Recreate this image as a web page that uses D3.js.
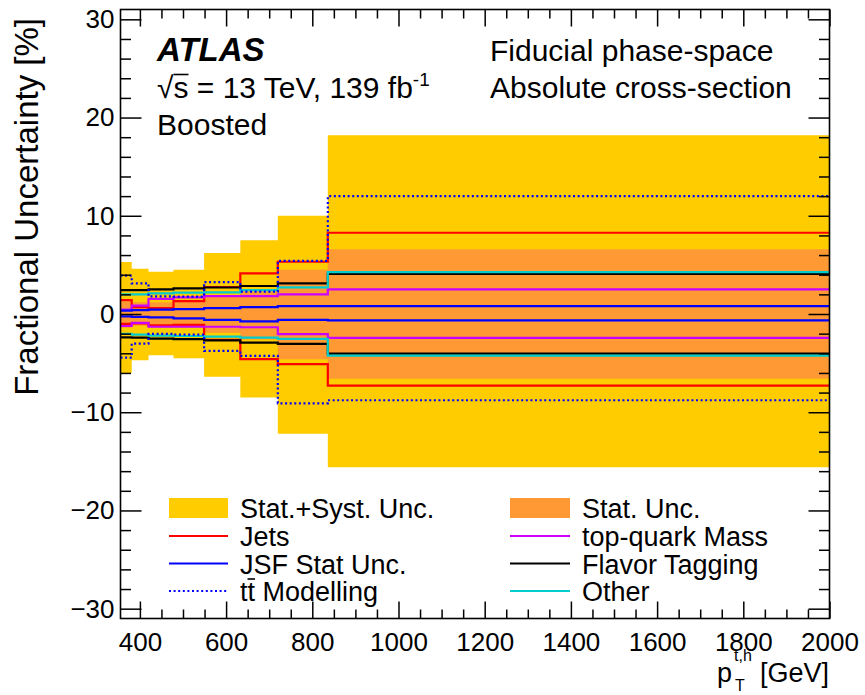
<!DOCTYPE html>
<html>
<head>
<meta charset="utf-8">
<script src="https://cdn.jsdelivr.net/npm/d3@7"></script>
<style>
  html, body { margin: 0; padding: 0; background: #fff; }
  svg { display: block; font-family: "Liberation Sans", Arial, Helvetica, sans-serif; }
</style>
</head>
<body>
<svg id="chart" width="865" height="695"></svg>
<script>
// Bin edges of the hadronic top pT (GeV)
const binEdges = [355, 381, 420, 478, 549, 633, 720, 836, 2000];

// Total (stat + syst) and statistical uncertainty bands, in %
const totalUp   = [5.3, 4.6, 4.3, 4.5, 6.2, 7.5, 10.0, 18.2];
const totalDown = [-6.0, -4.7, -4.2, -4.5, -6.4, -8.5, -12.2, -15.6];
const statUp    = [1.3, 1.2, 1.2, 1.3, 1.9, 2.4, 4.5, 6.6];
const statDown  = [-1.4, -1.2, -1.2, -1.3, -1.9, -2.6, -4.6, -6.6];

// Individual systematic components, up and down variations, in %
const jetsUp     = [1.42, 0.7, 0.6, 1.32, 2.75, 4.14, 5.32, 8.27];
const jetsDown   = [-1.0, -0.95, -1.15, -1.1, -2.64, -4.6, -5.1, -7.29];
const massUp     = [0.45, 0.85, 1.55, 1.7, 1.83, 1.83, 2.0, 2.51];
const massDown   = [-1.22, -0.9, -1.3, -1.3, -1.3, -1.35, -2.05, -2.44];
const jsfUp      = [0.35, 0.4, 0.45, 0.5, 0.6, 0.7, 0.8, 0.81];
const jsfDown    = [-0.25, -0.3, -0.35, -0.45, -0.6, -0.75, -0.6, -0.64];
const flavUp     = [2.44, 2.44, 2.51, 2.61, 2.7, 2.85, 3.12, 4.07];
const flavDown   = [-2.37, -2.41, -2.5, -2.55, -2.68, -2.92, -3.05, -4.04];
const otherUp    = [2.0, 2.0, 2.1, 2.17, 2.2, 2.44, 2.71, 4.27];
const otherDown  = [-2.03, -2.1, -2.2, -2.24, -2.31, -2.41, -2.54, -4.24];
const modelUp    = [3.9, 3.12, 1.8, 1.76, 3.25, 2.27, 5.4, 12.0];
const modelDown  = [-4.44, -3.02, -2.03, -2.1, -3.76, -4.27, -9.09, -8.78];

// Axis ticks
const xMajorTicks = [400, 600, 800, 1000, 1200, 1400, 1600, 1800, 2000];
const yMajorTicks = [-30, -20, -10, 0, 10, 20, 30];

const svg = d3.select("#chart");
const plot = { left: 120.5, right: 829.5, top: 9.5, bottom: 618.5 };

const x = d3.scaleLinear().domain([355, 2000]).range([plot.left, plot.right]);
const y = d3.scaleLinear().domain([-31, 31]).range([plot.bottom, plot.top]);

const colors = {
  total: "#ffcc00",
  stat: "#ff9933",
  jets: "#ff0000",
  mass: "#cc00ff",
  jsf: "#0000ff",
  flav: "#000000",
  other: "#00cccc",
  model: "#0000ff"
};

svg.append("defs").append("clipPath").attr("id", "plotclip")
  .append("rect")
  .attr("x", plot.left).attr("y", plot.top)
  .attr("width", plot.right - plot.left).attr("height", plot.bottom - plot.top);

const g = svg.append("g").attr("clip-path", "url(#plotclip)");

// Step data for a per-bin series: each bin contributes both of its edges
function stepPoints(values) {
  const pts = [];
  values.forEach((v, i) => {
    pts.push([binEdges[i], v]);
    pts.push([binEdges[i + 1], v]);
  });
  return pts;
}

function bandData(lo, hi) {
  const pts = [];
  lo.forEach((v, i) => {
    pts.push({ x: binEdges[i], lo: v, hi: hi[i] });
    pts.push({ x: binEdges[i + 1], lo: v, hi: hi[i] });
  });
  return pts;
}

const area = d3.area()
  .x(d => x(d.x))
  .y0(d => y(d.lo))
  .y1(d => y(d.hi));

g.append("path")
  .datum(bandData(totalDown, totalUp))
  .attr("d", area)
  .attr("fill", colors.total);

g.append("path")
  .datum(bandData(statDown, statUp))
  .attr("d", area)
  .attr("fill", colors.stat);

const line = d3.line().x(d => x(d[0])).y(d => y(d[1]));

const components = [
  { up: jetsUp, down: jetsDown, color: colors.jets, dash: null },
  { up: massUp, down: massDown, color: colors.mass, dash: null },
  { up: jsfUp, down: jsfDown, color: colors.jsf, dash: null },
  { up: flavUp, down: flavDown, color: colors.flav, dash: null },
  { up: otherUp, down: otherDown, color: colors.other, dash: null },
  { up: modelUp, down: modelDown, color: colors.model, dash: "2,2.6" }
];

components.forEach(c => {
  [c.up, c.down].forEach(vals => {
    g.append("path")
      .datum(stepPoints(vals))
      .attr("d", line)
      .attr("fill", "none")
      .attr("stroke", c.color)
      .attr("stroke-width", 2.2)
      .attr("stroke-dasharray", c.dash);
  });
});

// Axes: ticks point inward, mirrored on top and right
const xMinorTicks = d3.range(400, 2001, 50).filter(v => v % 200 !== 0);
const yMinorTicks = d3.range(-30, 31, 2).filter(v => v % 10 !== 0);

function styleAxis(sel) {
  sel.select(".domain").remove();
  sel.selectAll("line").attr("stroke", "#000").attr("stroke-width", 1.5);
  sel.selectAll("text").attr("fill", "#000").style("font-family", "Liberation Sans, Arial, sans-serif");
}

// bottom
svg.append("g").attr("transform", `translate(0,${plot.bottom})`)
  .call(d3.axisBottom(x).tickValues(xMajorTicks).tickSize(-17).tickPadding(14).tickFormat(d3.format("")))
  .call(styleAxis)
  .selectAll("text").style("font-size", "26px").attr("dy", "0.71em");
svg.append("g").attr("transform", `translate(0,${plot.bottom})`)
  .call(d3.axisBottom(x).tickValues(xMinorTicks).tickSize(-9).tickFormat(""))
  .call(styleAxis);
// top
svg.append("g").attr("transform", `translate(0,${plot.top})`)
  .call(d3.axisTop(x).tickValues(xMajorTicks).tickSize(-17).tickFormat(""))
  .call(styleAxis);
svg.append("g").attr("transform", `translate(0,${plot.top})`)
  .call(d3.axisTop(x).tickValues(xMinorTicks).tickSize(-9).tickFormat(""))
  .call(styleAxis);
// left
svg.append("g").attr("transform", `translate(${plot.left},0)`)
  .call(d3.axisLeft(y).tickValues(yMajorTicks).tickSize(-21).tickPadding(6).tickFormat(d3.format("")))
  .call(styleAxis)
  .selectAll("text").style("font-size", "26px");
svg.append("g").attr("transform", `translate(${plot.left},0)`)
  .call(d3.axisLeft(y).tickValues(yMinorTicks).tickSize(-10.5).tickFormat(""))
  .call(styleAxis);
// right
svg.append("g").attr("transform", `translate(${plot.right},0)`)
  .call(d3.axisRight(y).tickValues(yMajorTicks).tickSize(-21).tickFormat(""))
  .call(styleAxis);
svg.append("g").attr("transform", `translate(${plot.right},0)`)
  .call(d3.axisRight(y).tickValues(yMinorTicks).tickSize(-10.5).tickFormat(""))
  .call(styleAxis);

// frame
svg.append("rect")
  .attr("x", plot.left).attr("y", plot.top)
  .attr("width", plot.right - plot.left).attr("height", plot.bottom - plot.top)
  .attr("fill", "none").attr("stroke", "#000").attr("stroke-width", 1.6);

// Axis titles
svg.append("text")
  .attr("transform", "translate(38,18) rotate(-90)")
  .attr("text-anchor", "end")
  .style("font-size", "33px")
  .text("Fractional Uncertainty [%]");

const xt = svg.append("g");
xt.append("text").attr("x", 829).attr("y", 682).attr("text-anchor", "end")
  .style("font-size", "27px").text("[GeV]");
xt.append("text").attr("x", 717).attr("y", 682).style("font-size", "27px").text("p");
xt.append("text").attr("x", 734).attr("y", 661).style("font-size", "16px").text("t,h");
xt.append("text").attr("x", 735).attr("y", 691).style("font-size", "16px").text("T");

// Draws a bar over characters [i0, i1] of a text element, at the given height above the baseline
function overbar(textSel, i0, i1, baseY, rise) {
  const node = textSel.node();
  const xa = node.getStartPositionOfChar(i0).x;
  const xb = node.getEndPositionOfChar(i1).x;
  svg.append("line")
    .attr("x1", xa).attr("x2", xb)
    .attr("y1", baseY - rise).attr("y2", baseY - rise)
    .attr("stroke", "#000").attr("stroke-width", 1.6);
}

// Labels in the top-left and top-right corners
svg.append("text").attr("x", 157).attr("y", 61)
  .style("font-size", "33px").style("font-weight", "bold").style("font-style", "italic")
  .text("ATLAS");
const lumi = svg.append("text").attr("x", 157).attr("y", 98).style("font-size", "30px");
lumi.append("tspan").text("\u221As = 13 TeV, 139 fb");
lumi.append("tspan").attr("dy", -12).style("font-size", "19px").text("-1");
overbar(lumi, 1, 1, 98, 23.5);
svg.append("text").attr("x", 157).attr("y", 135).style("font-size", "30px").text("Boosted");
svg.append("text").attr("x", 490).attr("y", 61).style("font-size", "30px").text("Fiducial phase-space");
svg.append("text").attr("x", 490).attr("y", 98).style("font-size", "30px").text("Absolute cross-section");

// Legend
const legendRows = [508, 536, 563.5, 591];
const legendItems = [
  { col: 0, row: 0, type: "band", color: colors.total, label: "Stat.+Syst. Unc." },
  { col: 1, row: 0, type: "band", color: colors.stat, label: "Stat. Unc." },
  { col: 0, row: 1, type: "line", color: colors.jets, label: "Jets" },
  { col: 1, row: 1, type: "line", color: colors.mass, label: "top-quark Mass" },
  { col: 0, row: 2, type: "line", color: colors.jsf, label: "JSF Stat Unc." },
  { col: 1, row: 2, type: "line", color: colors.flav, label: "Flavor Tagging" },
  { col: 0, row: 3, type: "dots", color: colors.model, label: "tt Modelling" },
  { col: 1, row: 3, type: "line", color: colors.other, label: "Other" }
];
const legendCols = [{ x0: 169, x1: 228, tx: 240 }, { x0: 510, x1: 570, tx: 582 }];

const leg = svg.append("g");
legendItems.forEach(it => {
  const c = legendCols[it.col];
  const cy = legendRows[it.row];
  if (it.type === "band") {
    leg.append("rect").attr("x", c.x0).attr("y", cy - 10)
      .attr("width", c.x1 - c.x0).attr("height", 20).attr("fill", it.color);
  } else {
    leg.append("line").attr("x1", c.x0).attr("x2", c.x1).attr("y1", cy).attr("y2", cy)
      .attr("stroke", it.color).attr("stroke-width", 2.2)
      .attr("stroke-dasharray", it.type === "dots" ? "2,2.6" : null);
  }
  const t = leg.append("text").attr("x", c.tx).attr("y", cy + 10).style("font-size", "27px").text(it.label);
  // anti-top: bar over the second "t"
  if (it.type === "dots") overbar(t, 1, 1, cy + 10, 22);
});
</script>
</body>
</html>
